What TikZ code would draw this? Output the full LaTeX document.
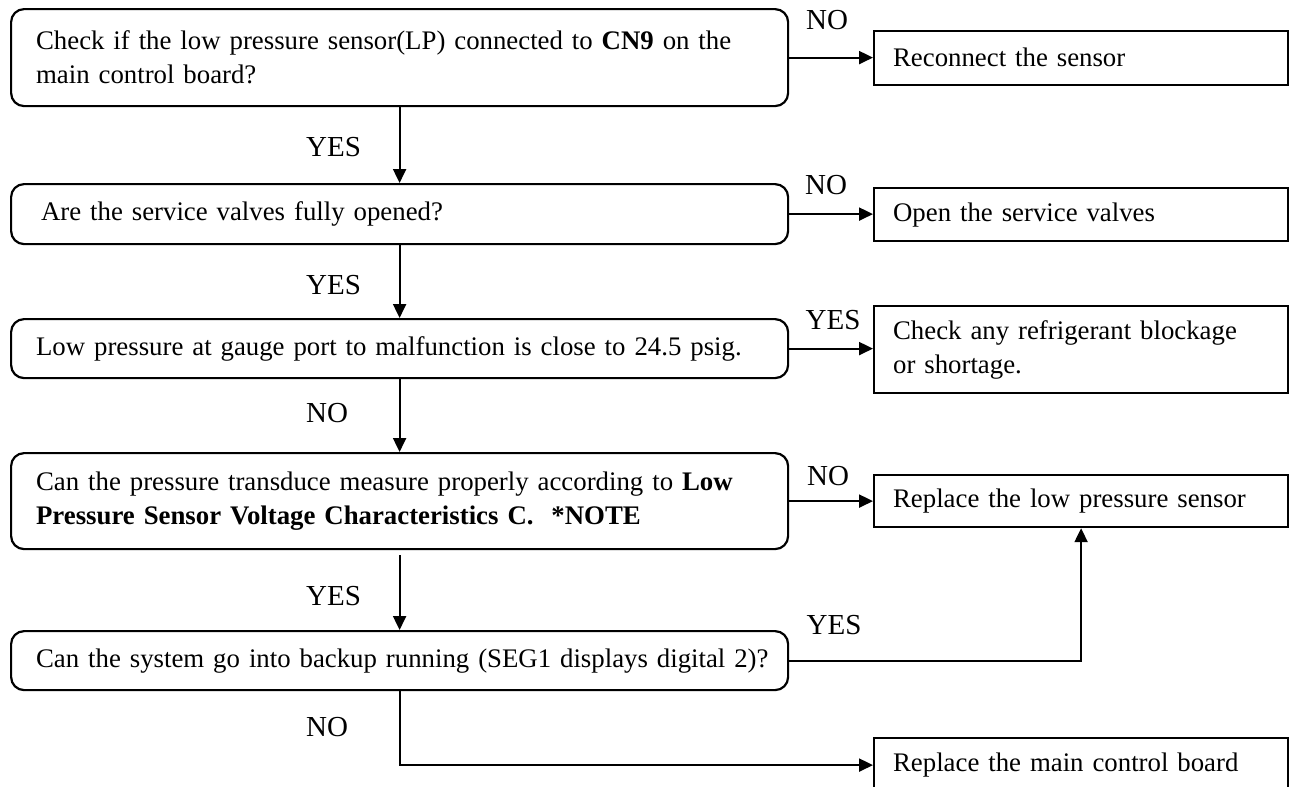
\documentclass[tikz,border=0pt]{standalone}
\usepackage{fontspec}
\setmainfont{Liberation Serif}
\usetikzlibrary{arrows.meta}
\begin{document}
\begin{tikzpicture}[x=1pt,y=-1pt,
  every node/.style={font=\fontsize{26.8}{34}\selectfont},
  qbox/.style={draw, line width=2.2pt, rounded corners=13pt, anchor=north west, minimum width=777pt, inner xsep=25pt, text width=727pt, align=left, inner ysep=0pt},
  abox/.style={draw, line width=2.2pt, anchor=north west, minimum width=414pt, inner xsep=19pt, text width=376pt, align=left, inner ysep=0pt},
  lbl/.style={inner sep=0pt, font=\fontsize{29}{34}\selectfont},
  conn/.style={line width=2.2pt, -{Triangle[length=14pt,width=13pt]}},
]
\useasboundingbox (0,0) rectangle (1293,787);

% question boxes
\node[qbox, minimum height=97pt] (b1) at (10,8) {\mbox{Check if the low pressure sensor(LP) connected to \textbf{CN9} on the}\\ \mbox{main control board?}};
\node[qbox, minimum height=60pt] (b2) at (10,183) {\mbox{\hspace*{5pt}Are the service valves fully opened?}};
\node[qbox, minimum height=59pt] (b3) at (10,318) {\mbox{Low pressure at gauge port to malfunction is close to 24.5 psig.}};
\node[qbox, minimum height=96pt] (b4) at (10,452) {\mbox{Can the pressure transduce measure properly according to \textbf{Low}}\\ \mbox{\textbf{Pressure Sensor Voltage Characteristics C.\ \ *NOTE}}};
\node[qbox, minimum height=59pt] (b5) at (10,630) {\mbox{Can the system go into backup running (SEG1 displays digital 2)?}};

% action boxes
\node[abox, minimum height=54pt] (r1) at (873,29.5) {\mbox{Reconnect the sensor}};
\node[abox, minimum height=53pt] (r2) at (873,187) {\mbox{Open the service valves}};
\node[abox, minimum height=87pt] (r3) at (873,305) {\mbox{Check any refrigerant blockage}\\ \mbox{or shortage.}};
\node[abox, minimum height=52pt] (r4) at (873,474) {\mbox{Replace the low pressure sensor}};
\node[abox, minimum height=54pt] (r5) at (873,737) {\mbox{Replace the main control board}};

% vertical connectors
\draw[conn] (b1.south) -- (b2.north);
\draw[conn] (b2.south) -- (b3.north);
\draw[conn] (b3.south) -- (b4.north);
\draw[conn, shorten <=5pt] (b4.south) -- (b5.north);
\draw[conn] (b5.south) |- (r5.west);

% horizontal connectors
\draw[conn] (b1.east) -- (b1.east -| r1.west);
\draw[conn] (b2.east) -- (b2.east -| r2.west);
\draw[conn] (b3.east) -- (b3.east -| r3.west);
\draw[conn] (b4.east) -- (b4.east -| r4.west);
\draw[conn] (b5.east) -| (r4.south);

% left labels
\node[lbl, anchor=west] (y1) at (306,147) {YES};
\node[lbl, anchor=west] (y2) at (306,285) {YES};
\node[lbl, anchor=west] (n3) at (306,413) {NO};
\node[lbl, anchor=west] (y4) at (306,596) {YES};
\node[lbl, anchor=west] (n5) at (306,727) {NO};

% right labels
\node[lbl] (n1) at (827,20) {NO};
\node[lbl] (n2) at (826,185) {NO};
\node[lbl] (y3) at (833,320) {YES};
\node[lbl] (n4) at (828,476) {NO};
\node[lbl] (y5) at (834,625) {YES};
\end{tikzpicture}
\end{document}
